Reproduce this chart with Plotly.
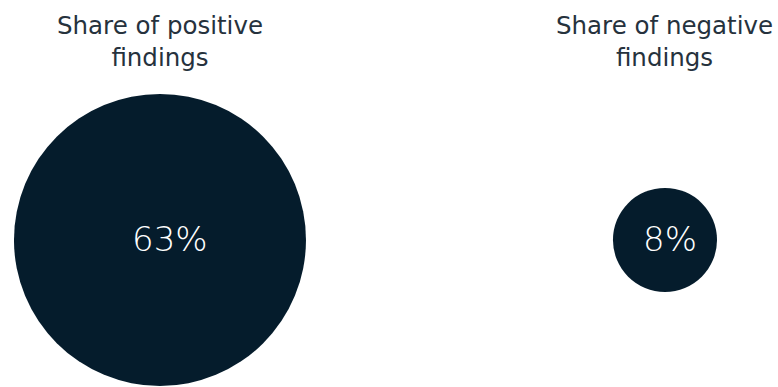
import plotly.graph_objects as go

categories = ["Share of positive<br>findings", "Share of negative<br>findings"]
values = [63, 8]
labels = ["63%", "8%"]
positions = [0, 1]

NAVY = "#051C2C"
FONT = "DejaVu Sans, Arial, sans-serif"
label_shift = [10, 5]

fig = go.Figure()
fig.add_trace(go.Scatter(
    x=positions,
    y=[0, 0],
    mode="markers",
    marker=dict(size=values, sizemode="area", sizeref=31.5 / 146**2, color=NAVY,
                opacity=1, line=dict(width=0)),
    hoverinfo="skip",
    cliponaxis=False,
    showlegend=False,
))

for p, lab, dx in zip(positions, labels, label_shift):
    fig.add_annotation(x=p, xref="x", y=0, yref="y", text=lab, xshift=dx, yshift=1,
                       showarrow=False, xanchor="center", yanchor="middle",
                       font=dict(family=FONT, size=34, color="white", weight=300))

for p, c in zip(positions, categories):
    fig.add_annotation(x=p, xref="x", y=1 - 41 / 387, yref="paper", text=c,
                       showarrow=False, xanchor="center", yanchor="middle",
                       font=dict(family=FONT, size=24.5, color="#26323d"))

fig.update_layout(
    width=778, height=387,
    margin=dict(l=0, r=0, t=0, b=0),
    paper_bgcolor="white", plot_bgcolor="white",
    xaxis=dict(range=[-0.3168, 1.2238], visible=False, fixedrange=True),
    yaxis=dict(range=[-0.76, 1.24], visible=False, fixedrange=True),
)

fig.write_html("out.html")
